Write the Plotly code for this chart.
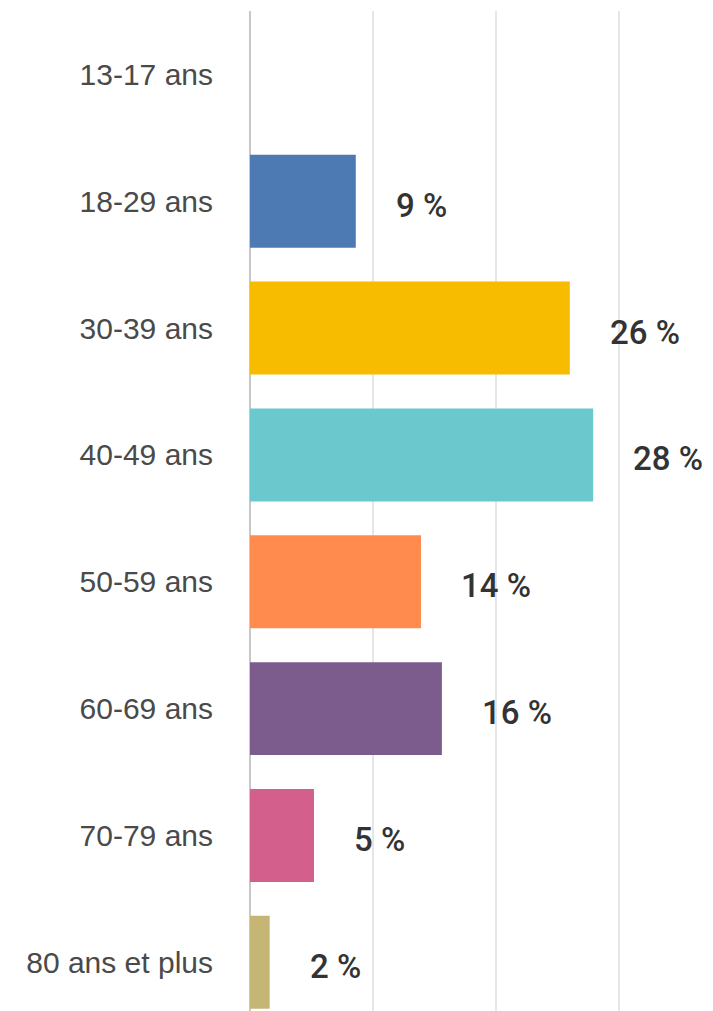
import plotly.graph_objects as go

categories = ["13-17 ans", "18-29 ans", "30-39 ans", "40-49 ans",
              "50-59 ans", "60-69 ans", "70-79 ans", "80 ans et plus"]
values = [0, 8.6, 26.0, 27.9, 13.9, 15.6, 5.2, 1.6]
labels = ["", "9 %", "26 %", "28 %", "14 %", "16 %", "5 %", "2 %"]
colors = ["#4E7AB3", "#4E7AB3", "#F7BC00", "#6BC8CD", "#FF8B4F",
          "#7B5C8D", "#D25F8C", "#C6B676"]
x_ticks = [0, 10, 20, 30]

fig = go.Figure()
fig.add_trace(go.Bar(
    x=values, y=categories, orientation="h",
    marker=dict(color=colors, line=dict(width=0)),
    hoverinfo="skip",
))

for cat, v, lab in zip(categories, values, labels):
    if lab:
        fig.add_annotation(
            x=v, y=cat, text=lab, showarrow=False,
            xanchor="left", yanchor="middle", xshift=38, yshift=-4,
            font=dict(family="Roboto, Liberation Sans, Arial, sans-serif", size=33,
                      color="#333333", weight=500),
        )

# page body has an 8px default margin, so the figure is sized to fit the window
fig.update_layout(
    width=705, height=1003,
    margin=dict(l=242, r=0, t=3, b=0),
    plot_bgcolor="white", paper_bgcolor="white",
    bargap=0.267,
    showlegend=False,
    font=dict(family="Liberation Sans, Arial, sans-serif"),
)
fig.update_xaxes(
    range=[0, 37.64], tickvals=x_ticks, showticklabels=False,
    showgrid=True, gridcolor="#e6e6e6", gridwidth=1.5,
    zeroline=True, zerolinecolor="#c8c8c8", zerolinewidth=2,
    showline=False, fixedrange=True,
)
fig.update_yaxes(
    categoryorder="array", categoryarray=categories,
    range=[7.384, -0.5], showgrid=False, zeroline=False, showline=False,
    ticks="", ticklabelstandoff=36,
    tickfont=dict(family="Liberation Sans, Arial, sans-serif", size=30, color="#4a4a4a"),
    fixedrange=True,
)

fig.write_html("out.html", config={"displayModeBar": False})
